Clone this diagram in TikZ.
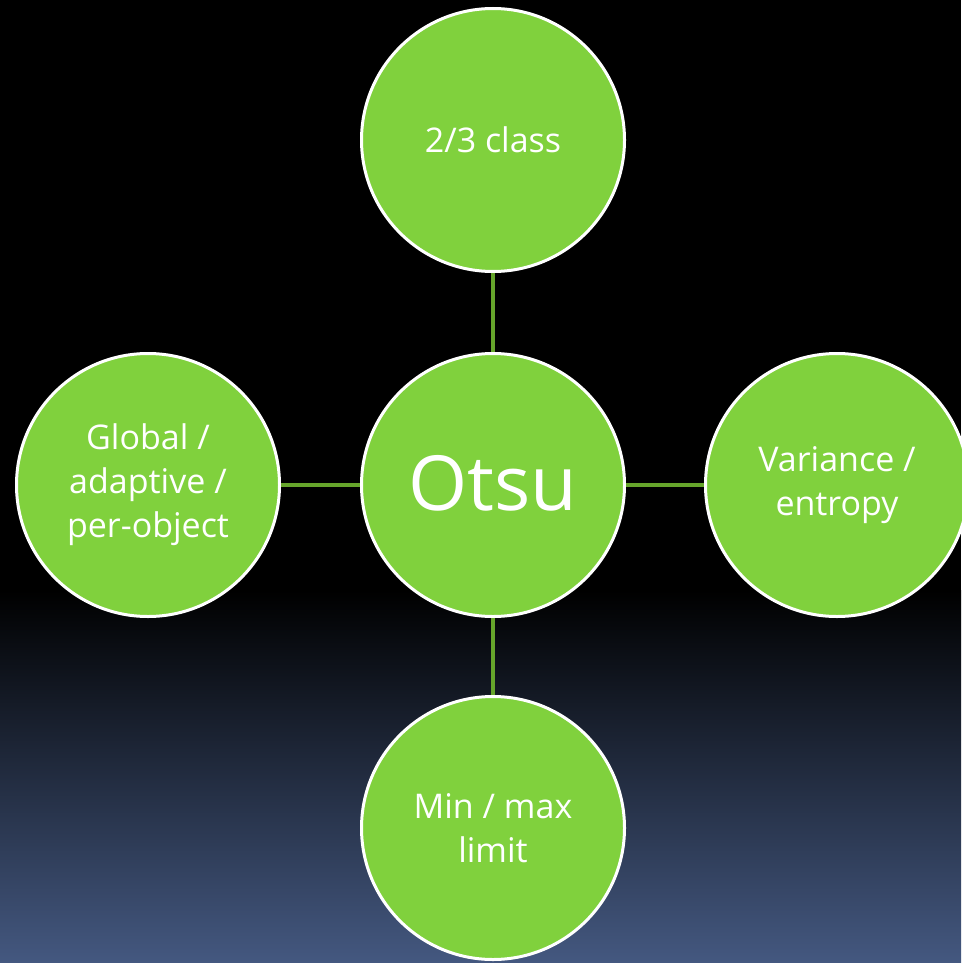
\documentclass[tikz,border=0pt]{standalone}
\usepackage{fontspec}
\setmainfont{Open Sans}
\definecolor{bgbot}{RGB}{68,88,128}
\definecolor{nodegreen}{RGB}{128,209,61}
\definecolor{linkgreen}{RGB}{102,165,43}
\begin{document}
\begin{tikzpicture}[x=1pt,y=1pt,
  bubble/.style={circle, fill=nodegreen, draw=white, line width=3pt, minimum size=263pt, inner sep=0pt, text=white, font=\fontsize{34}{44}\selectfont, align=center},
  link/.style={draw=linkgreen, line width=4pt}]
\useasboundingbox (0,0) rectangle (961,-963);
\fill[black] (0,0) rectangle (961,-590);
\shade[top color=black, bottom color=bgbot] (0,-590) rectangle (961,-963);
\node[bubble] (c) at (493,-485) {};
\node[bubble] (t) at (493,-140) {2/3 class};
\node[bubble] (l) at (148,-485) {Global /\\adaptive /\\per-object};
\node[bubble] (r) at (837,-485) {Variance /\\entropy};
\node[bubble] (b) at (493,-828) {Min / max\\limit};
\node[text=white, font=\fontsize{76}{80}\selectfont] (ct) at (493,-483) {Otsu};
\draw[link] (c) -- (t);
\draw[link] (c) -- (l);
\draw[link] (c) -- (r);
\draw[link] (c) -- (b);
\end{tikzpicture}
\end{document}
